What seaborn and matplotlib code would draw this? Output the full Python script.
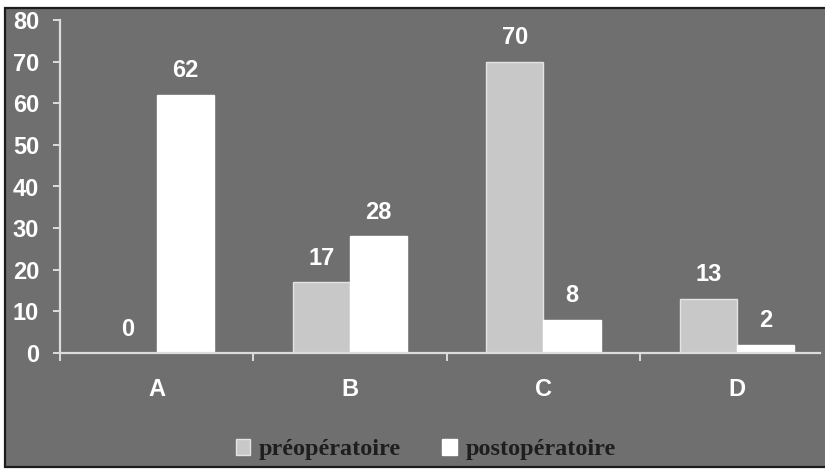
import matplotlib
matplotlib.use("Agg")
import matplotlib.pyplot as plt
from matplotlib.patches import Rectangle
import seaborn as sns
import pandas as pd

# Values per category and period
categories = ["A", "B", "C", "D"]
periods = ["préopératoire", "postopératoire"]
pre_values = [0, 17, 70, 13]
post_values = [62, 28, 8, 2]
y_ticks = [0, 10, 20, 30, 40, 50, 60, 70, 80]

df = pd.DataFrame({
    "categorie": categories * 2,
    "periode": [periods[0]] * len(categories) + [periods[1]] * len(categories),
    "valeur": pre_values + post_values,
})

sns.set_theme(style="white")
plt.rcParams["font.family"] = ["Liberation Sans", "DejaVu Sans"]

BG = "#6f6f6f"
AXIS = "#dcdcdc"
PRE = "#c8c8c8"
POST = "#ffffff"

fig = plt.figure(figsize=(8.25, 4.69), dpi=100, facecolor="white")

# Grey panel with a dark frame
W, H = 825, 469
panel = Rectangle((4.5 / W, 2.0 / H), 1.2, (466.5 - 7.5) / H,
                  transform=fig.transFigure, facecolor=BG,
                  edgecolor="#1c1c1c", linewidth=1.6, zorder=-5)
fig.add_artist(panel)

ax = fig.add_axes([60 / W, 1 - 353 / H, (820 - 60) / W, (353 - 20) / H])
ax.set_facecolor("none")

sns.barplot(data=df, x="categorie", y="valeur", hue="periode",
            hue_order=periods, order=categories,
            palette={periods[0]: PRE, periods[1]: POST},
            saturation=1, width=0.59, ax=ax, legend=True)

edge_map = {PRE: "#e4e4e4", POST: "#ffffff"}
for container, col in zip(ax.containers, [PRE, POST]):
    for bar in container:
        bar.set_edgecolor(edge_map[col])
        bar.set_linewidth(1.0)
    for bar, val in zip(container, container.datavalues):
        ax.annotate(f"{val:g}", (bar.get_x() + bar.get_width() / 2, bar.get_height()),
                    xytext=(0, 24), textcoords="offset pixels",
                    ha="center", va="center", color="white",
                    fontsize=17, fontweight="bold")

ax.set_xlim(-0.5, 3.43)
ax.set_ylim(0, 80)
ax.set_yticks(y_ticks)
ax.set_xlabel("")
ax.set_ylabel("")

for side in ["top", "right"]:
    ax.spines[side].set_visible(False)
for side in ["left", "bottom"]:
    ax.spines[side].set_color(AXIS)
    ax.spines[side].set_linewidth(1.6)

ax.tick_params(axis="y", which="major", direction="out", length=5, width=1.4,
               color=AXIS, labelcolor="white", labelsize=17, pad=10, left=True)
ax.tick_params(axis="x", which="major", length=0, labelcolor="white",
               labelsize=17, pad=18)
ax.set_xticks([-0.5, 0.5, 1.5, 2.5], minor=True)
ax.tick_params(axis="x", which="minor", direction="out", length=6, width=1.4,
               color=AXIS, bottom=True)
for lab in ax.get_xticklabels() + ax.get_yticklabels():
    lab.set_fontweight("bold")

handles, labels = ax.get_legend_handles_labels()
ax.get_legend().remove()
for h, col in zip(handles, [PRE, POST]):
    h.set_edgecolor(edge_map[col])
leg = fig.legend(handles, labels, loc="center", bbox_to_anchor=(0.516, 0.041),
                 ncol=2, frameon=False, handlelength=0.6, handleheight=0.6,
                 handletextpad=0.35, columnspacing=1.7,
                 prop={"family": ["Liberation Serif", "DejaVu Serif"],
                       "weight": "bold", "size": 17.5})
for t in leg.get_texts():
    t.set_color("#1e1e1e")

fig.savefig("out.png", dpi=100, facecolor="white")
